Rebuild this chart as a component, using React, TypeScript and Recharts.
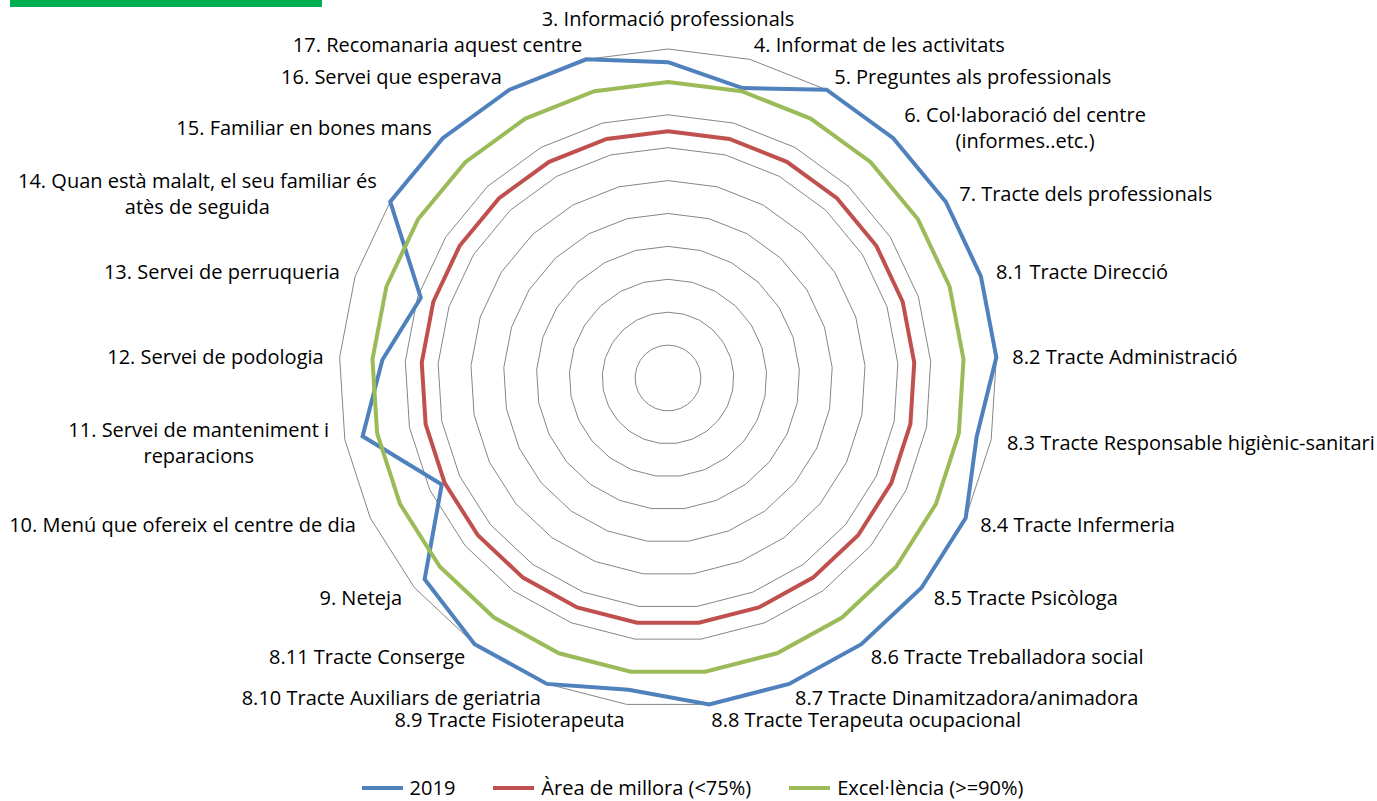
import React from 'react';
import { RadarChart, Radar, PolarGrid, PolarAngleAxis, PolarRadiusAxis, Legend } from 'recharts';

const categories: string[] = [
  '3. Informació professionals',
  '4. Informat de les activitats',
  '5. Preguntes als professionals',
  '6. Col·laboració del centre\n(informes..etc.)',
  '7. Tracte dels professionals',
  '8.1 Tracte Direcció',
  '8.2 Tracte Administració',
  '8.3 Tracte Responsable higiènic-sanitari',
  '8.4 Tracte Infermeria',
  '8.5 Tracte Psicòloga',
  '8.6 Tracte Treballadora social',
  '8.7 Tracte Dinamitzadora/animadora',
  '8.8 Tracte Terapeuta ocupacional',
  '8.9 Tracte Fisioterapeuta',
  '8.10 Tracte Auxiliars de geriatria',
  '8.11 Tracte Conserge',
  '9. Neteja',
  '10. Menú que ofereix el centre de dia',
  '11. Servei de manteniment i\nreparacions',
  '12. Servei de podologia',
  '13. Servei de perruqueria',
  '14. Quan està malalt, el seu familiar és\natès de seguida',
  '15. Familiar en bones mans',
  '16. Servei que esperava',
  '17. Recomanaria aquest centre',
];

const values2019: number[] = [
  0.96, 0.91, 1, 1, 1, 1, 1, 0.955, 1, 1, 1, 1, 1, 0.955, 1, 1, 0.96, 0.76, 0.945, 0.87, 0.79, 1, 1, 1, 1,
];
const areaMillora: number[] = categories.map(() => 0.75);
const excellencia: number[] = categories.map(() => 0.9);

const radiusTicks: number[] = [0, 0.1, 0.2, 0.3, 0.4, 0.5, 0.6, 0.7, 0.8, 0.9, 1];

const seriesNames = ['2019', 'Àrea de millora (<75%)', 'Excel·lència (>=90%)'];
const seriesColors = ['#4F81BD', '#C0504D', '#9BBB59'];

const data = categories.map((c, i) => ({
  cat: c,
  s2019: values2019[i],
  area: areaMillora[i],
  exc: excellencia[i],
}));

const FONT = '"Open Sans", sans-serif';
const FONT_SIZE = 20;

let ctx: CanvasRenderingContext2D | null = null;
function measure(t: string): number {
  if (typeof document === 'undefined') return t.length * 9.5;
  if (!ctx) {
    const c = document.createElement('canvas');
    ctx = c.getContext('2d');
  }
  if (!ctx) return t.length * 9.5;
  ctx.font = `${FONT_SIZE}px ${FONT}`;
  return ctx.measureText(t).width;
}

const AngleTick = (props: any) => {
  const { x, y, payload, cx, cy } = props;
  const dx0 = x - cx;
  const dy0 = y - cy;
  const len = Math.sqrt(dx0 * dx0 + dy0 * dy0) || 1;
  const s = dx0 / len;
  const c = -dy0 / len;
  const lines: string[] = String(payload.value).split('\n');
  const lineH = 26;
  let anchor: 'start' | 'end' | 'middle' = 'middle';
  if (s > 0.01) anchor = 'start';
  else if (s < -0.01) anchor = 'end';
  let px = x + 8 * s;
  let cyText = y - 7 * c;
  if (anchor === 'middle') {
    px = x;
    cyText = c > 0 ? y - 23 : y + 23;
  }
  const widths = lines.map(measure);
  const maxW = Math.max(...widths);
  let centerX: number;
  if (anchor === 'start') centerX = px + maxW / 2;
  else if (anchor === 'end') centerX = px - maxW / 2;
  else centerX = px;
  const top = cyText - ((lines.length - 1) * lineH) / 2;
  return (
    <g>
      {lines.map((ln, i) => (
        <text
          key={i}
          x={lines.length > 1 ? centerX : px}
          y={top + i * lineH}
          textAnchor={lines.length > 1 ? 'middle' : anchor}
          dominantBaseline="central"
          fontFamily={FONT}
          fontSize={FONT_SIZE}
          fill="#000"
        >
          {ln}
        </text>
      ))}
    </g>
  );
};

const LegendContent = () => (
  <div
    style={{
      display: 'flex',
      justifyContent: 'center',
      alignItems: 'center',
      fontFamily: FONT,
      fontSize: FONT_SIZE,
      lineHeight: '26px',
      color: '#000',
    }}
  >
    {seriesNames.map((n, i) => (
      <div key={n} style={{ display: 'flex', alignItems: 'center', marginRight: i < 2 ? 38 : 0 }}>
        <svg width={41} height={6} style={{ marginRight: 7 }}>
          <line x1={0} y1={3} x2={41} y2={3} stroke={seriesColors[i]} strokeWidth={4} />
        </svg>
        <span>{n}</span>
      </div>
    ))}
  </div>
);

export default function App() {
  return (
    <div style={{ position: 'absolute', left: 0, top: 0, width: 1377, height: 801, background: '#fff' }}>
      <div style={{ position: 'absolute', left: 10, top: 0, width: 312, height: 7, background: '#00B050' }} />
      <RadarChart
        width={1377}
        height={801}
        data={data}
        cx={668}
        cy={378}
        outerRadius={329}
        startAngle={90}
        endAngle={-270}
        margin={{ top: 0, right: 0, bottom: 0, left: 0 }}
      >
        <PolarRadiusAxis
          type="number"
          domain={[0, 1]}
          ticks={radiusTicks}
          tickCount={11}
          tick={() => <g />}
          axisLine={false}
        />
        <PolarGrid gridType="polygon" radialLines={false} stroke="#868686" strokeWidth={1} />
        <PolarAngleAxis dataKey="cat" tick={(p: any) => <AngleTick {...p} cx={668} cy={378} />} tickLine={false} axisLine={false} />
        <Radar name={seriesNames[0]} dataKey="s2019" stroke={seriesColors[0]} strokeWidth={4} fill="none" fillOpacity={0} dot={false} isAnimationActive={false} />
        <Radar name={seriesNames[1]} dataKey="area" stroke={seriesColors[1]} strokeWidth={4} fill="none" fillOpacity={0} dot={false} isAnimationActive={false} />
        <Radar name={seriesNames[2]} dataKey="exc" stroke={seriesColors[2]} strokeWidth={4} fill="none" fillOpacity={0} dot={false} isAnimationActive={false} />
        <Legend
          content={<LegendContent />}
          wrapperStyle={{ position: 'absolute', left: 4, top: 775, width: 1377 }}
        />
      </RadarChart>
    </div>
  );
}
